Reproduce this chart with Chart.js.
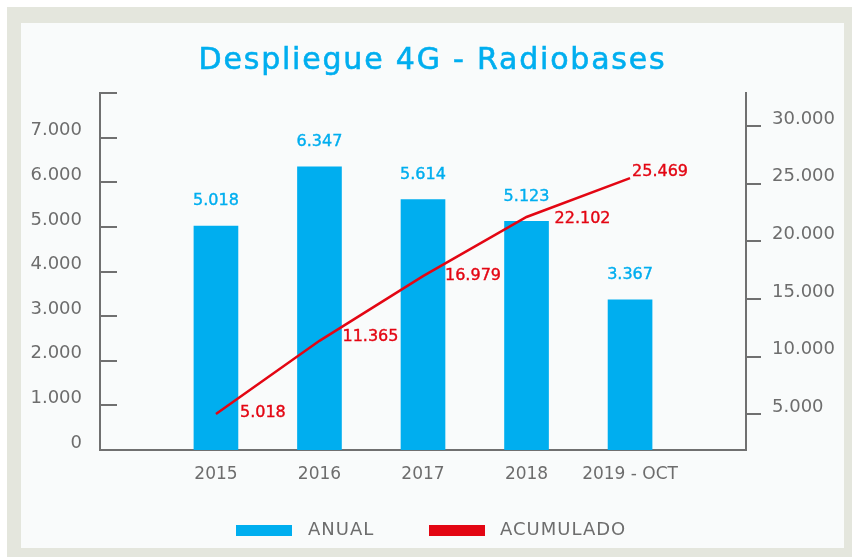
<!DOCTYPE html>
<html>
<head>
<meta charset="utf-8">
<script src="https://cdn.jsdelivr.net/npm/chart.js@4.4.0/dist/chart.umd.min.js"></script>
<style>
  body { margin: 0; background: #ffffff; font-family: "DejaVu Sans", sans-serif; }
  #frame { position: absolute; left: 7px; top: 7px; width: 845px; height: 550px; background: #e4e6dd; }
  #panel { position: absolute; left: 21px; top: 23px; width: 823px; height: 525px; background: #f9fbfb; }
  #chart { position: absolute; left: 0; top: 0; }
  #title { position: absolute; left: 0; top: 21px; width: 823px; text-align: center;
           font-size: 30px; line-height: 30px; letter-spacing: 1.8px; color: #00aeef;
           -webkit-text-stroke: 0.6px #00aeef; }
  .leg-box { position: absolute; width: 56px; height: 11px; top: 502px; }
  .leg-txt { position: absolute; top: 497px; font-size: 18px; line-height: 18px; letter-spacing: 1px; color: #6d6d6d; }
</style>
</head>
<body>
<div id="frame"></div>
<div id="panel">
  <canvas id="chart" width="823" height="525"></canvas>
  <div id="title">Despliegue 4G - Radiobases</div>
  <div id="legend"></div>
</div>
<script>
// datos
const categorias = ['2015', '2016', '2017', '2018', '2019 - OCT'];
const anual = [5018, 6347, 5614, 5123, 3367];
const acumulado = [5018, 11365, 16979, 22102, 25469];
const ticksIzq = [0, 1000, 2000, 3000, 4000, 5000, 6000, 7000, 8000];
const ticksDer = [5000, 10000, 15000, 20000, 25000, 30000];

const AZUL = '#00aeef';
const ROJO = '#e30613';
const GRIS = '#6d6d6d';
const EJE = '#707070';

// posiciones de las etiquetas rojas respecto al punto
const offsetsAcum = [[24, -1], [23, -4], [22, 0], [28, 2], [2, -6]];

function fmt(v) {
    return String(v).replace(/\B(?=(\d{3})+(?!\d))/g, '.');
}

// marcas del eje izquierdo hacia dentro + etiquetas de valores
const extras = {
    id: 'extras',
    afterDatasetsDraw(chart) {
        const ctx = chart.ctx;
        const y = chart.scales.y;
        const area = chart.chartArea;
        ctx.save();
        ctx.strokeStyle = EJE;
        ctx.lineWidth = 2;
        ticksIzq.forEach(function(v) {
            if (v === 0) return;
            const py = Math.round(y.getPixelForValue(v));
            ctx.beginPath();
            ctx.moveTo(area.left, py);
            ctx.lineTo(area.left + 17, py);
            ctx.stroke();
        });

        // un poco de trazo para imitar el peso medio del original
        ctx.font = '16px "DejaVu Sans"';
        ctx.textBaseline = 'middle';
        ctx.lineWidth = 0.4;
        ctx.textAlign = 'center';
        ctx.fillStyle = AZUL;
        ctx.strokeStyle = AZUL;
        chart.getDatasetMeta(0).data.forEach(function(bar, i) {
            ctx.fillText(fmt(anual[i]), bar.x, bar.y - 25);
            ctx.strokeText(fmt(anual[i]), bar.x, bar.y - 25);
        });
        ctx.textAlign = 'left';
        ctx.fillStyle = ROJO;
        ctx.strokeStyle = ROJO;
        chart.getDatasetMeta(1).data.forEach(function(pt, i) {
            const o = offsetsAcum[i];
            ctx.fillText(fmt(acumulado[i]), pt.x + o[0], pt.y + o[1]);
            ctx.strokeText(fmt(acumulado[i]), pt.x + o[0], pt.y + o[1]);
        });
        ctx.restore();
    }
};

const chart = new Chart(document.getElementById('chart'), {
    data: {
        datasets: [{
            type: 'bar',
            label: 'ANUAL',
            data: categorias.map((c, i) => ({x: i, y: anual[i]})),
            backgroundColor: AZUL,
            barThickness: 44,
            yAxisID: 'y',
            order: 1
        }, {
            type: 'line',
            label: 'ACUMULADO',
            data: categorias.map((c, i) => ({x: i, y: acumulado[i]})),
            borderColor: ROJO,
            borderWidth: 2.5,
            pointRadius: 0,
            tension: 0,
            yAxisID: 'y1',
            order: 0
        }]
    },
    options: {
        responsive: false,
        animation: false,
        layout: { padding: { top: 70, left: 0, right: 0, bottom: 0 } },
        plugins: {
            legend: { display: false },
            title: { display: false },
            tooltip: { enabled: false }
        },
        scales: {
            x: {
                type: 'linear',
                min: -1.12,
                max: 5.12,
                offset: false,
                afterBuildTicks: function(scale) {
                    scale.ticks = categorias.map((c, i) => ({value: i}));
                },
                afterFit: function(scale) { scale.height = 98; },
                grid: { display: false, drawTicks: false, offset: false },
                border: { display: true, color: EJE, width: 2 },
                ticks: {
                    autoSkip: false,
                    maxRotation: 0,
                    padding: 14,
                    color: GRIS,
                    font: { family: 'DejaVu Sans', size: 17 },
                    callback: function(v) { return categorias[v]; }
                }
            },
            y: {
                position: 'left',
                min: 0,
                max: 8000,
                afterBuildTicks: function(scale) {
                    scale.ticks = ticksIzq.map(v => ({value: v}));
                },
                afterFit: function(scale) { scale.width = 79; },
                grid: { display: false, drawTicks: false },
                border: { display: true, color: EJE, width: 2 },
                ticks: {
                    padding: 18,
                    labelOffset: -7,
                    color: GRIS,
                    font: { family: 'DejaVu Sans', size: 18 },
                    callback: function(v) { return v === 8000 ? '' : fmt(v); }
                }
            },
            y1: {
                position: 'right',
                min: 1900,
                max: 32850,
                afterBuildTicks: function(scale) {
                    scale.ticks = ticksDer.map(v => ({value: v}));
                },
                afterFit: function(scale) { scale.width = 98; },
                grid: { display: true, drawOnChartArea: false, drawTicks: true, tickLength: 15, color: EJE, lineWidth: 2 },
                border: { display: true, color: EJE, width: 2 },
                ticks: {
                    padding: 11,
                    labelOffset: -7,
                    color: GRIS,
                    font: { family: 'DejaVu Sans', size: 18 },
                    callback: function(v) { return fmt(v); }
                }
            }
        }
    },
    plugins: [extras]
});

// leyenda
const leyenda = document.getElementById('legend');
const posLeyenda = [[215, 287], [408, 479]];
chart.data.datasets.forEach(function(ds, i) {
    const box = document.createElement('div');
    box.className = 'leg-box';
    box.style.left = posLeyenda[i][0] + 'px';
    box.style.background = ds.type === 'bar' ? ds.backgroundColor : ds.borderColor;
    const txt = document.createElement('div');
    txt.className = 'leg-txt';
    txt.style.left = posLeyenda[i][1] + 'px';
    txt.textContent = ds.label;
    leyenda.appendChild(box);
    leyenda.appendChild(txt);
});
</script>
</body>
</html>
